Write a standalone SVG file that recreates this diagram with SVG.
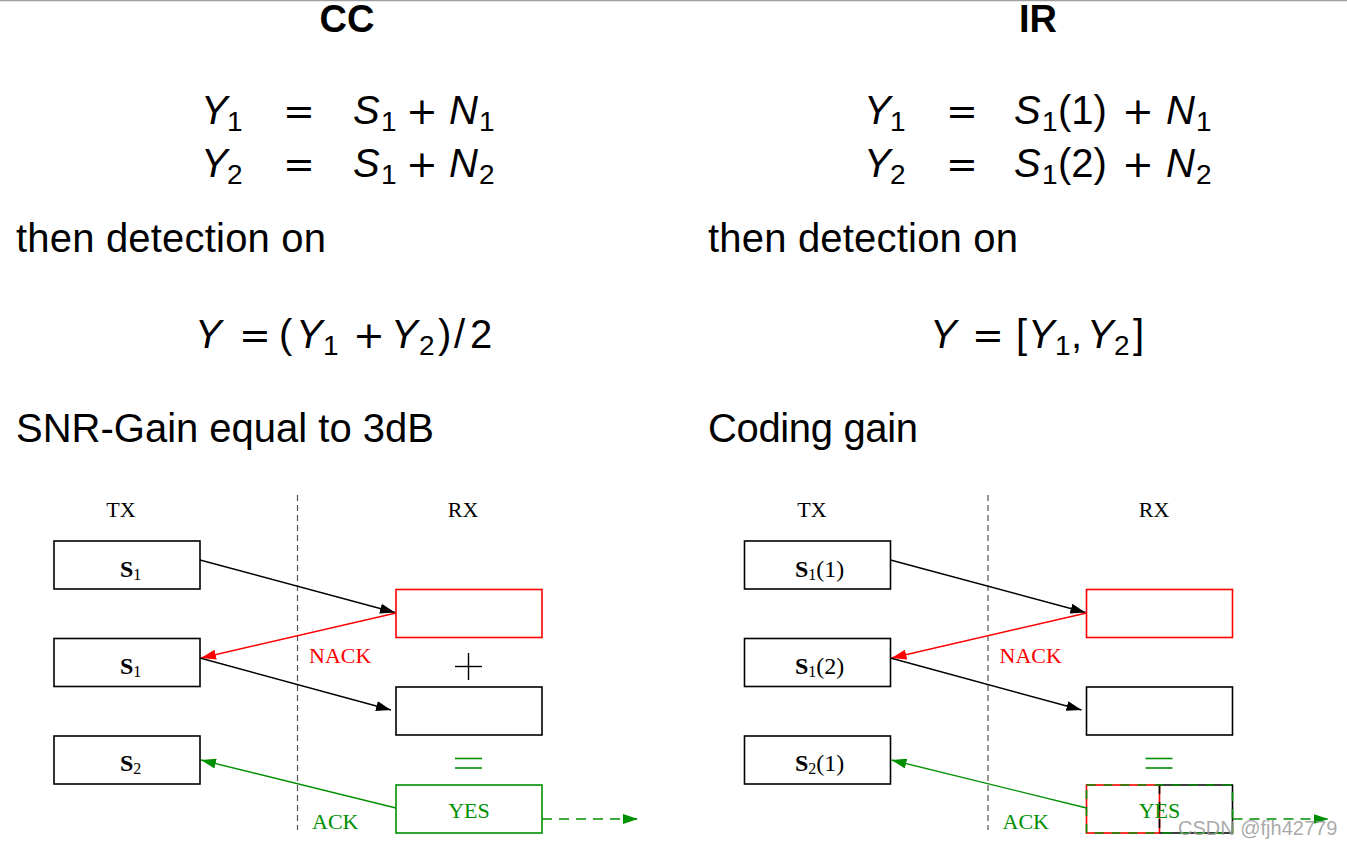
<svg xmlns="http://www.w3.org/2000/svg" width="1347" height="848" viewBox="0 0 1347 848">
<style>
.t{font-family:"Liberation Sans",Arial,sans-serif;font-size:40px;fill:#000}
.h{font-family:"Liberation Sans",Arial,sans-serif;font-size:38px;font-weight:bold;fill:#000}
.v{font-family:"Liberation Sans",Arial,sans-serif;font-size:40px;font-style:italic;fill:#000}
.n{font-family:"Liberation Sans",Arial,sans-serif;font-size:40px;fill:#000}
.sb{font-family:"Liberation Sans",Arial,sans-serif;font-size:28px;font-style:normal;fill:#000}
.op{font-family:"DejaVu Sans",sans-serif;font-size:38px;fill:#000}
.lbl{font-family:"Liberation Serif","Times New Roman",serif;font-size:22px;fill:#000}
.sl{font-family:"Liberation Serif","Times New Roman",serif;font-size:24px;font-weight:bold;fill:#000}
.ss{font-family:"Liberation Serif","Times New Roman",serif;font-size:16px;font-weight:normal}
.sp{font-family:"Liberation Serif","Times New Roman",serif;font-size:24px;font-weight:normal}
.box{fill:none;stroke:#000;stroke-width:1.6}
.rbox{fill:none;stroke:#ff0000;stroke-width:1.6}
.gbox{fill:none;stroke:#008f00;stroke-width:1.6}
.red{fill:#ff0000}
.grn{fill:#008f00}
.div{stroke:#555;stroke-width:1.2;stroke-dasharray:6 4;fill:none}
.ak{stroke:#000;stroke-width:1.4;fill:none;marker-end:url(#mk)}
.ar{stroke:#ff0000;stroke-width:1.4;fill:none;marker-end:url(#mr)}
.ag{stroke:#008f00;stroke-width:1.4;fill:none;marker-end:url(#mg)}
.agd{stroke:#008f00;stroke-width:1.6;fill:none;stroke-dasharray:10 7;marker-end:url(#mg)}
</style>
<defs>
<marker id="mk" markerUnits="userSpaceOnUse" markerWidth="16" markerHeight="10" refX="15" refY="5" orient="auto"><path d="M0,0 L15,5 L0,10 z" fill="#000"/></marker>
<marker id="mr" markerUnits="userSpaceOnUse" markerWidth="16" markerHeight="10" refX="15" refY="5" orient="auto"><path d="M0,0 L15,5 L0,10 z" fill="#ff0000"/></marker>
<marker id="mg" markerUnits="userSpaceOnUse" markerWidth="16" markerHeight="10" refX="15" refY="5" orient="auto"><path d="M0,0 L15,5 L0,10 z" fill="#008f00"/></marker>
</defs>
<rect x="0" y="0" width="1347" height="848" fill="#fff"/>
<line x1="0" y1="0.5" x2="1347" y2="0.5" stroke="#a0a0a0" stroke-width="1.5"/>

<!-- CC column -->
<g id="cc-text">
<text class="h" x="347" y="32" text-anchor="middle">CC</text>
<text class="v" x="201" y="124">Y</text><text class="sb" x="227" y="131">1</text>
<text class="op" x="299" y="124" text-anchor="middle">=</text>
<text class="v" x="353" y="124">S</text><text class="sb" x="381" y="131">1</text>
<text class="op" x="422" y="124" text-anchor="middle">+</text>
<text class="v" x="449" y="124">N</text><text class="sb" x="479" y="131">1</text>
<text class="v" x="201" y="177">Y</text><text class="sb" x="227" y="184">2</text>
<text class="op" x="299" y="177" text-anchor="middle">=</text>
<text class="v" x="353" y="177">S</text><text class="sb" x="381" y="184">1</text>
<text class="op" x="422" y="177" text-anchor="middle">+</text>
<text class="v" x="449" y="177">N</text><text class="sb" x="479" y="184">2</text>
<text class="t" x="16" y="252" textLength="310" lengthAdjust="spacing">then detection on</text>
<text class="v" x="195" y="348">Y</text>
<text class="op" x="255" y="348" text-anchor="middle">=</text>
<text class="n" x="279" y="348">(</text>
<text class="v" x="296" y="348">Y</text><text class="sb" x="323" y="355">1</text>
<text class="op" x="369" y="348" text-anchor="middle">+</text>
<text class="v" x="391" y="348">Y</text><text class="sb" x="419" y="355">2</text>
<text class="n" x="438" y="348">)</text>
<text class="n" x="454" y="348">/</text>
<text class="n" x="470" y="348">2</text>
<text class="t" x="16" y="442" textLength="418" lengthAdjust="spacing">SNR-Gain equal to 3dB</text>
</g>

<!-- IR column -->
<g id="ir-text">
<text class="h" x="1038" y="32" text-anchor="middle">IR</text>
<text class="v" x="864" y="124">Y</text><text class="sb" x="890" y="131">1</text>
<text class="op" x="962" y="124" text-anchor="middle">=</text>
<text class="v" x="1014" y="124">S</text><text class="sb" x="1042" y="131">1</text>
<text class="n" x="1058" y="124">(1)</text>
<text class="op" x="1138" y="124" text-anchor="middle">+</text>
<text class="v" x="1166" y="124">N</text><text class="sb" x="1196" y="131">1</text>
<text class="v" x="864" y="177">Y</text><text class="sb" x="890" y="184">2</text>
<text class="op" x="962" y="177" text-anchor="middle">=</text>
<text class="v" x="1014" y="177">S</text><text class="sb" x="1042" y="184">1</text>
<text class="n" x="1058" y="177">(2)</text>
<text class="op" x="1138" y="177" text-anchor="middle">+</text>
<text class="v" x="1166" y="177">N</text><text class="sb" x="1196" y="184">2</text>
<text class="t" x="708" y="252" textLength="310" lengthAdjust="spacing">then detection on</text>
<text class="v" x="930" y="348">Y</text>
<text class="op" x="988" y="348" text-anchor="middle">=</text>
<text class="n" x="1016" y="348">[</text>
<text class="v" x="1028" y="348">Y</text><text class="sb" x="1055" y="355">1</text>
<text class="n" x="1071" y="348">,</text>
<text class="v" x="1087" y="348">Y</text><text class="sb" x="1114" y="355">2</text>
<text class="n" x="1133" y="348">]</text>
<text class="t" x="708" y="442" textLength="210" lengthAdjust="spacing">Coding gain</text>
</g>

<!-- CC diagram -->
<g id="cc-labels">
<text class="lbl" x="121" y="517" text-anchor="middle">TX</text>
<text class="lbl" x="463" y="517" text-anchor="middle">RX</text>
<line class="div" x1="297.5" y1="495" x2="297.5" y2="830"/>
</g>
<g id="cc-tx1"><rect class="box" x="54" y="541" width="146" height="48"/><text class="sl" x="120" y="577">S<tspan class="ss" dy="3">1</tspan></text></g>
<g id="cc-tx2"><rect class="box" x="54" y="638.5" width="146" height="48"/><text class="sl" x="120" y="674">S<tspan class="ss" dy="3">1</tspan></text></g>
<g id="cc-tx3"><rect class="box" x="54" y="736" width="146" height="48"/><text class="sl" x="120" y="771">S<tspan class="ss" dy="3">2</tspan></text></g>
<g id="cc-rx1"><rect class="rbox" x="396" y="589.5" width="146" height="48"/></g>
<g id="cc-plus"><line x1="455" y1="666.5" x2="482" y2="666.5" stroke="#000" stroke-width="1.4"/><line x1="468.5" y1="653" x2="468.5" y2="680" stroke="#000" stroke-width="1.4"/></g>
<g id="cc-rx2"><rect class="box" x="396" y="687" width="146" height="48"/></g>
<g id="cc-eq"><line x1="455" y1="758.5" x2="482" y2="758.5" stroke="#008f00" stroke-width="1.6"/><line x1="455" y1="768" x2="482" y2="768" stroke="#008f00" stroke-width="1.6"/></g>
<g id="cc-rx3"><rect class="gbox" x="396" y="785" width="146" height="48"/><text class="lbl grn" x="469" y="818" text-anchor="middle">YES</text></g>
<g id="cc-connectors">
<line class="ak" x1="200" y1="560" x2="395" y2="612.5"/>
<line class="ar" x1="396" y1="613" x2="201" y2="658"/>
<line class="ak" x1="200" y1="658" x2="391" y2="710"/>
<line class="ag" x1="396" y1="808" x2="201" y2="760"/>
<line class="agd" x1="542" y1="819" x2="638" y2="819"/>
<text class="lbl red" x="309" y="663">NACK</text>
<text class="lbl grn" x="312" y="829">ACK</text>
</g>

<!-- IR diagram -->
<g id="ir-labels">
<text class="lbl" x="812" y="517" text-anchor="middle">TX</text>
<text class="lbl" x="1154" y="517" text-anchor="middle">RX</text>
<line class="div" x1="988" y1="495" x2="988" y2="830"/>
</g>
<g id="ir-tx1"><rect class="box" x="744.5" y="541" width="146" height="48"/><text class="sl" x="795" y="577">S<tspan class="ss" dy="3">1</tspan><tspan class="sp" dy="-3">(1)</tspan></text></g>
<g id="ir-tx2"><rect class="box" x="744.5" y="638.5" width="146" height="48"/><text class="sl" x="795" y="674">S<tspan class="ss" dy="3">1</tspan><tspan class="sp" dy="-3">(2)</tspan></text></g>
<g id="ir-tx3"><rect class="box" x="744.5" y="736" width="146" height="48"/><text class="sl" x="795" y="771">S<tspan class="ss" dy="3">2</tspan><tspan class="sp" dy="-3">(1)</tspan></text></g>
<g id="ir-rx1"><rect class="rbox" x="1086.5" y="589.5" width="146" height="48"/></g>
<g id="ir-rx2"><rect class="box" x="1086.5" y="687" width="146" height="48"/></g>
<g id="ir-eq"><line x1="1145.5" y1="758.5" x2="1172.5" y2="758.5" stroke="#008f00" stroke-width="1.6"/><line x1="1145.5" y1="768" x2="1172.5" y2="768" stroke="#008f00" stroke-width="1.6"/></g>
<g id="ir-rx3">
<rect x="1086.5" y="785" width="73" height="48" fill="none" stroke="#ff0000" stroke-width="1.6"/>
<path d="M1159.5,785 H1232.5 V833 H1159.5" fill="none" stroke="#000" stroke-width="1.6"/>
<line x1="1159.5" y1="785" x2="1159.5" y2="833" stroke="#000" stroke-width="1.6" stroke-dasharray="9 8"/>
<rect x="1086.5" y="785" width="146" height="48" fill="none" stroke="#008f00" stroke-width="1.6" stroke-dasharray="9 8"/>
<text class="lbl grn" x="1159.5" y="818" text-anchor="middle">YES</text>
</g>
<g id="ir-connectors">
<line class="ak" x1="890.5" y1="560" x2="1085.5" y2="612.5"/>
<line class="ar" x1="1086.5" y1="613" x2="891.5" y2="658"/>
<line class="ak" x1="890.5" y1="658" x2="1081.5" y2="710"/>
<line class="ag" x1="1086.5" y1="808" x2="891.5" y2="760"/>
<line class="agd" x1="1232.5" y1="819" x2="1328.5" y2="819"/>
<text class="lbl red" x="999.5" y="663">NACK</text>
<text class="lbl grn" x="1002.5" y="829">ACK</text>
</g>
<text x="1178" y="835" font-family="'Liberation Sans',Arial,sans-serif" font-size="20" fill="#9a9a9a" fill-opacity="0.85">CSDN @fjh42779</text>
</svg>
